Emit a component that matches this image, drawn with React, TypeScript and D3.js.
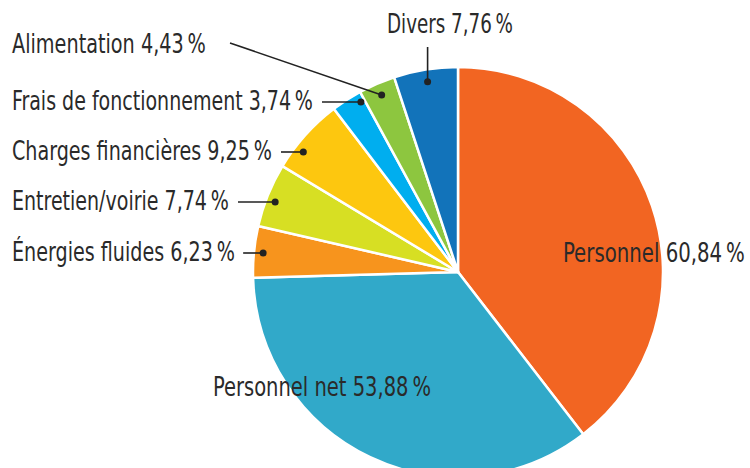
import React from 'react';
import * as d3 from 'd3';

const categories = [
  'Personnel',
  'Personnel net',
  'Énergies fluides',
  'Entretien/voirie',
  'Charges financières',
  'Frais de fonctionnement',
  'Alimentation',
  'Divers',
];
const values = [60.84, 53.88, 6.23, 7.74, 9.25, 3.74, 4.43, 7.76];
const valueLabels = ['60,84', '53,88', '6,23', '7,74', '9,25', '3,74', '4,43', '7,76'];
const colors = ['#f26522', '#31a9c9', '#f7941d', '#d7df23', '#fdc70f', '#00aeef', '#8dc63f', '#1273ba'];

// label layout: width of each label in px (condensed face emulated by squeezing)
const labelWidths = [182, 218, 223, 217, 260, 301, 194, 126];
// baselines of the stacked callout labels on the left
const rowBaselines = [261, 210, 160, 110];

const W = 750;
const H = 468;
const cx = 458;
const cy = 272;
const R = 205;
const fontSize = 26;
const font = '"DejaVu Sans Condensed", "DejaVu Sans", sans-serif';

let ctx: CanvasRenderingContext2D | null = null;
const measure = (s: string) => {
  if (!ctx) ctx = document.createElement('canvas').getContext('2d');
  if (!ctx) return s.length * 12;
  ctx.font = `${fontSize}px ${font}`;
  return ctx.measureText(s).width;
};

const Label = ({ x, y, text, width }: { x: number; y: number; text: string; width: number }) => {
  const sx = width / measure(text);
  return (
    <text transform={`translate(${x},${y}) scale(${sx},1)`}>{text}</text>
  );
};

const App = () => {
  const pie = d3.pie<number>().sort(null).value(d => d);
  const arcs = pie(values);
  const arc = d3.arc<d3.PieArcDatum<number>>().innerRadius(0).outerRadius(R);
  const dotArc = d3.arc<d3.PieArcDatum<number>>().innerRadius(R * 0.94).outerRadius(R * 0.94);
  const rd = R * 0.955;

  const label = (i: number) => `${categories[i]} ${valueLabels[i]}\u2009%`;

  const callouts = arcs.slice(2).map((a, k) => {
    const i = k + 2;
    if (categories[i] === 'Divers') {
      const [dx, dy] = dotArc.centroid(a);
      const px = cx + dx, py = cy + dy;
      return { i, px, py, line: [px, py, px, 47], tx: 387, ty: 33 };
    }
    if (categories[i] === 'Alimentation') {
      const [dx, dy] = dotArc.centroid(a);
      const px = cx + dx, py = cy + dy;
      return { i, px, py, line: [px, py, 230, 43], tx: 12, ty: 53 };
    }
    const ty = rowBaselines[k];
    const py = ty - 8;
    const px = cx - Math.sqrt(rd * rd - (py - cy) * (py - cy));
    const textEnd = 12 + labelWidths[i];
    return { i, px, py, line: [px, py, Math.min(textEnd + 9, px - 20), py], tx: 12, ty };
  });

  return (
    <div style={{ position: 'fixed', left: 0, top: 0 }}>
      <svg width={W} height={H} style={{ display: 'block', background: '#fff' }}>
        <g transform={`translate(${cx},${cy})`}>
          {arcs.map((a, i) => (
            <path key={i} d={arc(a) || ''} fill={colors[i]} stroke="#fff" strokeWidth={2.5} strokeLinejoin="round" />
          ))}
        </g>
        <g fontFamily={font} fontSize={fontSize} fill="#2a2a2a">
          <Label x={563} y={262} text={label(0)} width={labelWidths[0]} />
          <Label x={213} y={396} text={label(1)} width={labelWidths[1]} />
          {callouts.map(c => (
            <g key={c.i}>
              <line x1={c.line[0]} y1={c.line[1]} x2={c.line[2]} y2={c.line[3]} stroke="#222" strokeWidth={1.6} />
              <circle cx={c.px} cy={c.py} r={3.5} fill="#222" />
              <Label x={c.tx} y={c.ty} text={label(c.i)} width={labelWidths[c.i]} />
            </g>
          ))}
        </g>
      </svg>
    </div>
  );
};

export default App;
